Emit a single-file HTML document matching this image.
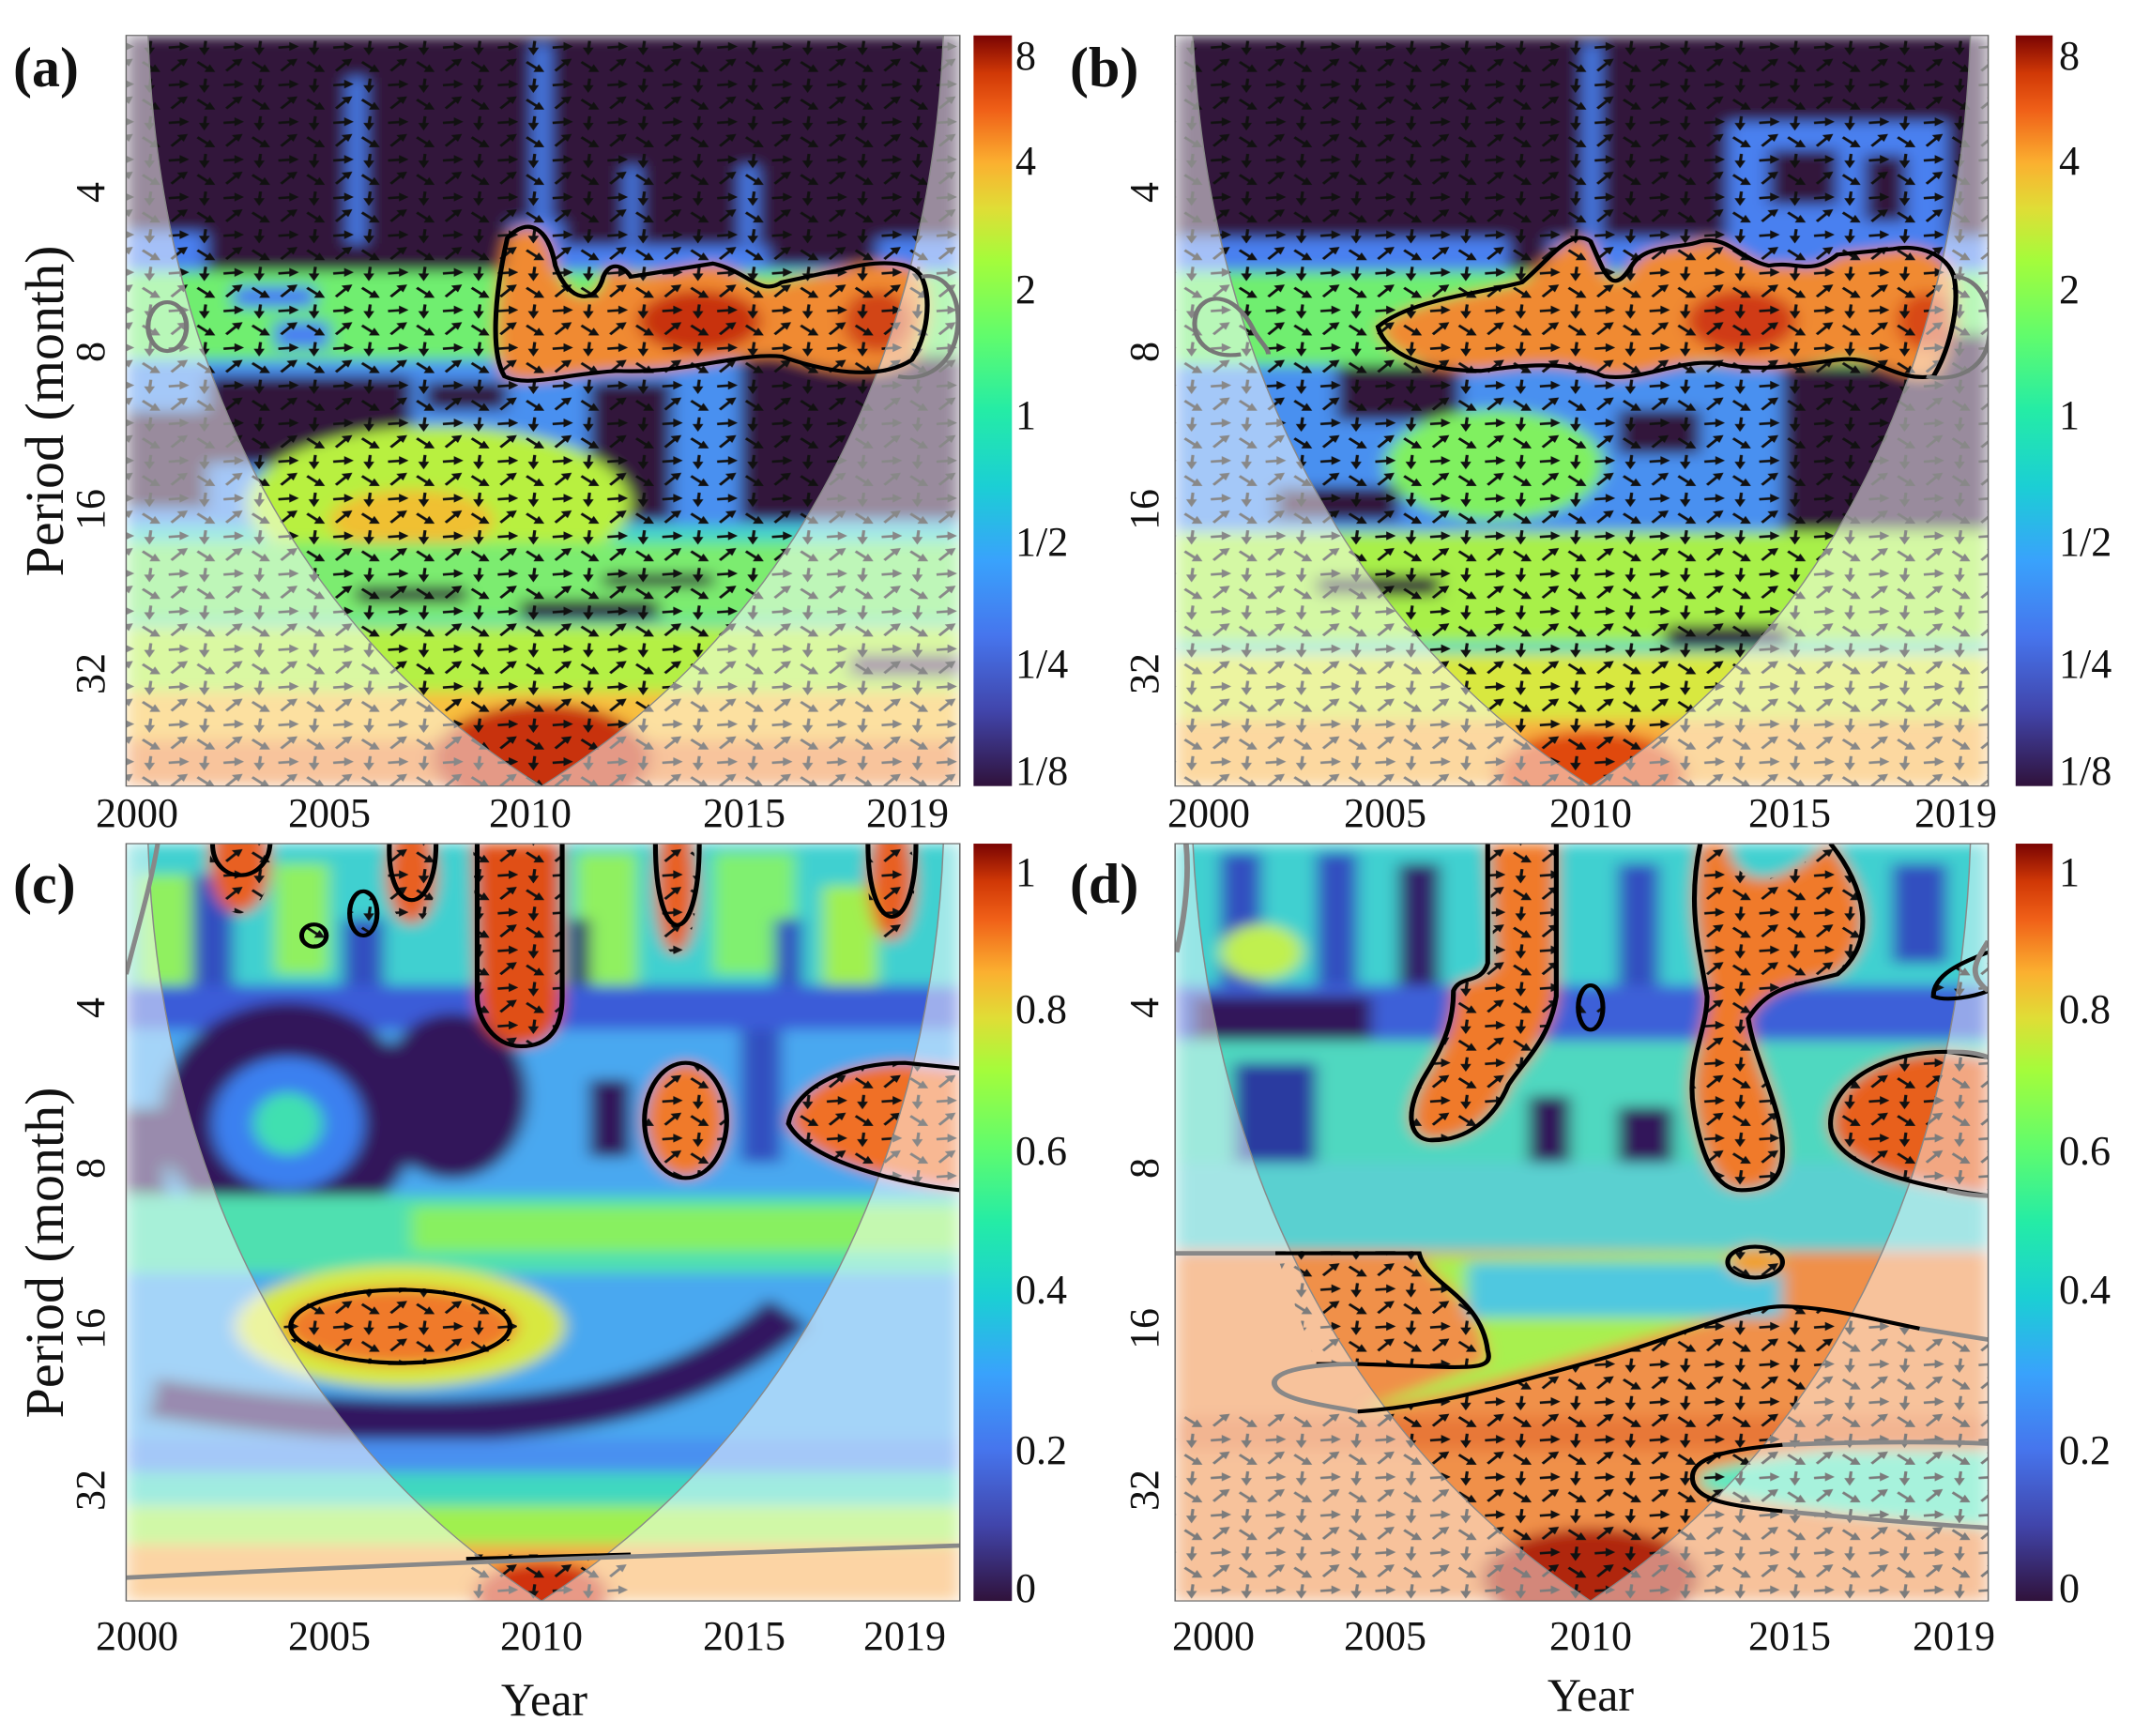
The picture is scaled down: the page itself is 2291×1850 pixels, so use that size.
<!DOCTYPE html>
<html><head><meta charset="utf-8">
<style>
html,body{margin:0;padding:0;background:#fff;}
#w{position:relative;width:2291px;height:1850px;overflow:hidden;font-family:"Liberation Serif",serif;color:#111;}
svg{position:absolute;left:0;top:0;}
.t{position:absolute;font-size:44px;line-height:1;white-space:nowrap;transform:translate(-50%,-50%);}
.r{transform:translate(-50%,-50%) rotate(-90deg);}
.lab{position:absolute;font-size:60px;font-weight:bold;line-height:1;}
.big{font-size:50px;}
.pl{font-size:58px;}
.cb{position:absolute;font-size:44px;line-height:1;transform:translateY(-50%);}
</style></head><body><div id="w">
<svg width="2291" height="1850" viewBox="0 0 1568 1568" preserveAspectRatio="none">
<defs>
<filter id="bl" x="-5%" y="-5%" width="110%" height="110%"><feGaussianBlur stdDeviation="6"/></filter>
<linearGradient id="turbo" x1="0" y1="1" x2="0" y2="0">
<stop offset="0" stop-color="#30123b"/><stop offset="0.1" stop-color="#4145ab"/><stop offset="0.2" stop-color="#4675ed"/>
<stop offset="0.3" stop-color="#39a2fc"/><stop offset="0.4" stop-color="#1bcfd4"/><stop offset="0.5" stop-color="#24eca6"/>
<stop offset="0.6" stop-color="#61fc6c"/><stop offset="0.7" stop-color="#a4fc3b"/><stop offset="0.77" stop-color="#e0dd36"/>
<stop offset="0.83" stop-color="#fbb030"/><stop offset="0.9" stop-color="#f06018"/><stop offset="0.95" stop-color="#d03806"/>
<stop offset="1" stop-color="#7a0403"/></linearGradient>
<pattern id="arr" width="40" height="34" patternUnits="userSpaceOnUse">
<g stroke="#111" stroke-width="2.2" fill="#111">
<path d="M3,9 L14,8" /><path d="M18,8 L11,4 L11,12Z" stroke="none"/>
<path d="M30,3 L29,12"/><path d="M29,16 L25,9 L33,9Z" stroke="none"/>
<path d="M5,30 L13,22"/><path d="M17,19 L9,20 L14,26Z" stroke="none"/>
<path d="M24,22 L33,29"/><path d="M37,31 L29,31 L33,24Z" stroke="none"/>
</g></pattern>
<clipPath id="ca"><rect x="92" y="32" width="608" height="678"/></clipPath>
<clipPath id="cb"><rect x="857" y="32" width="593" height="678"/></clipPath>
<clipPath id="cc"><rect x="92" y="762" width="608" height="684"/></clipPath>
<clipPath id="cd"><rect x="857" y="762" width="593" height="684"/></clipPath>
<clipPath id="blobc">
<path d="M345,762 H410 V900 C410,930 400,945 380,945 C360,945 348,920 348,900Z"/>
<ellipse cx="175" cy="780" rx="22" ry="45"/><ellipse cx="300" cy="790" rx="18" ry="45"/>
<ellipse cx="493" cy="800" rx="15" ry="62"/><ellipse cx="650" cy="795" rx="17" ry="55"/>
<ellipse cx="265" cy="825" rx="10" ry="20"/><ellipse cx="229" cy="845" rx="9" ry="10"/>
<ellipse cx="500" cy="1012" rx="30" ry="52"/>
<path d="M575,1015 C580,980 620,960 660,960 L700,965 V1075 C660,1070 590,1050 575,1015Z"/>
<ellipse cx="292" cy="1198" rx="85" ry="35"/>
<rect x="340" y="1404" width="120" height="42"/>
</clipPath>
<clipPath id="blobd">
<path d="M1085,762 H1135 V900 C1130,940 1110,960 1100,980 C1090,1010 1070,1030 1045,1030 C1025,1030 1025,1000 1040,970 C1055,940 1060,920 1060,895 C1065,880 1080,890 1090,870Z"/>
<path d="M1240,762 H1260 C1262,790 1280,800 1300,790 C1320,780 1330,762 1335,762 C1360,800 1370,850 1340,880 C1310,890 1290,890 1275,920 C1280,960 1300,1000 1300,1040 C1300,1070 1285,1075 1270,1075 C1250,1075 1240,1040 1235,1000 C1230,960 1245,930 1245,900 C1240,860 1230,820 1240,762Z"/>
<path d="M1335,1015 C1335,980 1370,950 1420,950 L1450,955 V1080 C1420,1075 1335,1060 1335,1015Z"/>
<ellipse cx="1280" cy="1140" rx="20" ry="14"/><ellipse cx="1160" cy="910" rx="9" ry="20"/>
<path d="M1410,900 C1410,880 1430,870 1450,860 V895 C1440,900 1420,905 1410,900Z"/>
<path d="M930,1130 H1035 C1040,1160 1080,1170 1085,1220 C1090,1240 1070,1235 990,1232 L960,1232Z"/>
<path d="M990,1275 C1050,1270 1100,1250 1160,1230 C1220,1210 1270,1180 1300,1180 C1330,1180 1360,1190 1400,1200 L1450,1210 V1446 H857 V1275Z"/>
</clipPath>
</defs>

<!-- ================= PANEL A ================= -->
<g clip-path="url(#ca)">
<g filter="url(#bl)">
<rect x="92" y="32" width="608" height="678" fill="#45d6c8"/>
<rect x="92" y="195" width="608" height="50" fill="#4a80f0"/>
<path d="M92,32 H700 V215 H640 V240 H560 V222 H410 V200 H372 V290 H150 V210 H92Z" fill="#30123b"/>
<rect x="254" y="70" width="12" height="150" fill="#4a80f0"/>
<rect x="389" y="40" width="12" height="180" fill="#4a80f0"/>
<rect x="456" y="150" width="10" height="70" fill="#4a80f0"/>
<rect x="540" y="150" width="12" height="70" fill="#4a80f0"/>
<rect x="92" y="245" width="608" height="80" fill="#70ee70"/>
<rect x="170" y="258" width="60" height="20" fill="#4a80f0"/>
<rect x="200" y="290" width="40" height="25" fill="#4a80f0"/>
<rect x="92" y="325" width="608" height="150" fill="#4a90f0"/>
<rect x="150" y="340" width="150" height="80" fill="#30123b"/>
<rect x="310" y="345" width="60" height="25" fill="#30123b"/>
<rect x="430" y="345" width="60" height="125" fill="#30123b"/>
<rect x="540" y="320" width="160" height="150" fill="#30123b"/>
<rect x="92" y="370" width="60" height="90" fill="#30123b"/>
<ellipse cx="320" cy="455" rx="140" ry="70" fill="#b8f040"/>
<ellipse cx="300" cy="470" rx="60" ry="28" fill="#f0c030"/>
<rect x="92" y="490" width="608" height="70" fill="#7cec70"/>
<rect x="260" y="530" width="80" height="14" fill="#30123b"/>
<rect x="380" y="542" width="100" height="18" fill="#30123b"/>
<rect x="440" y="518" width="80" height="12" fill="#30123b"/>
<rect x="92" y="565" width="608" height="60" fill="#b4f044"/>
<rect x="620" y="590" width="80" height="22" fill="#604060"/>
<rect x="92" y="625" width="608" height="45" fill="#f8c040"/>
<rect x="92" y="668" width="608" height="42" fill="#f08838"/>
<ellipse cx="395" cy="685" rx="80" ry="50" fill="#c8300c"/>
<path d="M370,215 C385,195 400,205 405,240 C415,275 435,275 440,250 C445,235 455,240 460,250 L520,238 C545,245 555,268 570,255 L615,243 C640,235 665,235 672,250 C680,270 676,305 665,325 C640,345 600,335 570,322 C540,318 500,338 450,335 C410,338 385,350 368,340 C358,320 360,270 370,215Z" fill="#f08a30"/>
<ellipse cx="510" cy="290" rx="45" ry="28" fill="#c83010"/>
<ellipse cx="640" cy="290" rx="25" ry="28" fill="#d24418"/>
</g>
<rect x="92" y="32" width="608" height="678" fill="url(#arr)"/>
<path d="M92,32 H108 C115,300 200,560 395,710 C590,560 680,300 688,32 H700 V710 H92Z" fill="#fff" opacity="0.5"/>
<path d="M108,32 C115,300 200,560 395,710 C590,560 680,300 688,32" fill="none" stroke="#888" stroke-width="1"/>
<path d="M370,215 C385,195 400,205 405,240 C415,275 435,275 440,250 C445,235 455,240 460,250 L520,238 C545,245 555,268 570,255 L615,243 C640,235 665,235 672,250 C680,270 676,305 665,325 C640,345 600,335 570,322 C540,318 500,338 450,335 C410,338 385,350 368,340 C358,320 360,270 370,215Z" fill="none" stroke="#000" stroke-width="3.5"/>
<ellipse cx="122" cy="295" rx="14" ry="22" fill="none" stroke="#777" stroke-width="3.5"/>
<path d="M672,250 C690,245 702,270 698,300 C694,330 675,345 655,340" fill="none" stroke="#777" stroke-width="3.5"/>
</g>

<!-- ================= PANEL B ================= -->
<g clip-path="url(#cb)">
<g filter="url(#bl)">
<rect x="857" y="32" width="593" height="678" fill="#45d6c8"/>
<rect x="857" y="200" width="593" height="45" fill="#4a80f0"/>
<path d="M857,32 H1450 V215 H1130 V260 H1100 V215 H857Z" fill="#30123b"/>
<rect x="1260" y="110" width="160" height="110" fill="#4a80f0"/>
<rect x="1290" y="135" width="50" height="50" fill="#30123b"/>
<rect x="1360" y="140" width="30" height="60" fill="#30123b"/>
<rect x="1155" y="40" width="12" height="180" fill="#4a80f0"/>
<rect x="857" y="245" width="593" height="85" fill="#70ee70"/>
<rect x="857" y="330" width="593" height="150" fill="#4a90f0"/>
<rect x="975" y="330" width="90" height="50" fill="#30123b"/>
<rect x="1300" y="330" width="110" height="150" fill="#30123b"/>
<rect x="1180" y="370" width="60" height="40" fill="#30123b"/>
<rect x="1380" y="300" width="70" height="190" fill="#30123b"/>
<ellipse cx="1090" cy="420" rx="80" ry="50" fill="#80f060"/>
<rect x="930" y="440" width="90" height="30" fill="#30123b"/>
<rect x="857" y="480" width="593" height="100" fill="#a8f048"/>
<rect x="960" y="520" width="90" height="18" fill="#30123b"/>
<rect x="1215" y="565" width="90" height="20" fill="#30123b"/>
<rect x="1380" y="615" width="70" height="14" fill="#604060"/>
<rect x="857" y="590" width="593" height="60" fill="#d8e840"/>
<rect x="857" y="650" width="593" height="60" fill="#f8b040"/>
<ellipse cx="1160" cy="700" rx="70" ry="40" fill="#e04810"/>
<path d="M1005,295 C1030,270 1080,265 1110,255 C1130,235 1145,205 1160,218 C1170,245 1175,270 1190,240 C1200,220 1225,225 1240,218 C1260,212 1270,235 1290,240 C1310,235 1320,250 1340,230 L1380,225 C1400,220 1420,230 1425,250 C1430,280 1420,320 1410,340 C1380,345 1370,320 1340,325 C1310,330 1290,335 1260,330 C1230,320 1200,345 1170,340 C1140,325 1110,330 1080,335 C1040,335 1010,320 1005,295Z" fill="#f08a30"/>
<ellipse cx="1270" cy="290" rx="40" ry="28" fill="#d03a12"/>
<ellipse cx="1405" cy="290" rx="22" ry="26" fill="#d84818"/>
</g>
<rect x="857" y="32" width="593" height="678" fill="url(#arr)"/>
<path d="M857,32 H870 C880,300 970,560 1160,710 C1350,560 1430,300 1437,32 H1450 V710 H857Z" fill="#fff" opacity="0.5"/>
<path d="M870,32 C880,300 970,560 1160,710 C1350,560 1430,300 1437,32" fill="none" stroke="#888" stroke-width="1"/>
<path d="M1005,295 C1030,270 1080,265 1110,255 C1130,235 1145,205 1160,218 C1170,245 1175,270 1190,240 C1200,220 1225,225 1240,218 C1260,212 1270,235 1290,240 C1310,235 1320,250 1340,230 L1380,225 C1400,220 1420,230 1425,250 C1430,280 1420,320 1410,340 C1380,345 1370,320 1340,325 C1310,330 1290,335 1260,330 C1230,320 1200,345 1170,340 C1140,325 1110,330 1080,335 C1040,335 1010,320 1005,295Z" fill="none" stroke="#000" stroke-width="3.5"/>
<path d="M905,320 C880,325 868,305 872,285 C876,265 900,260 915,300 C920,310 925,315 925,320" fill="none" stroke="#777" stroke-width="3.5"/>
<path d="M1425,250 C1445,250 1455,280 1450,310 C1445,335 1425,345 1405,340" fill="none" stroke="#777" stroke-width="3.5"/>
</g>

<!-- ================= PANEL C ================= -->
<g clip-path="url(#cc)">
<g filter="url(#bl)">
<rect x="92" y="762" width="608" height="684" fill="#48a8f0"/>
<rect x="92" y="762" width="608" height="140" fill="#40d0d0"/>
<rect x="100" y="790" width="40" height="100" fill="#90f060"/>
<rect x="200" y="780" width="40" height="100" fill="#90f060"/>
<rect x="420" y="770" width="45" height="120" fill="#90f060"/>
<rect x="520" y="770" width="60" height="110" fill="#80f070"/>
<rect x="600" y="800" width="40" height="90" fill="#a0f050"/>
<rect x="140" y="790" width="30" height="110" fill="#3050c0"/>
<rect x="250" y="830" width="30" height="80" fill="#3050c0"/>
<rect x="415" y="830" width="15" height="70" fill="#30246a"/>
<rect x="565" y="830" width="20" height="80" fill="#3050c0"/>
<rect x="92" y="890" width="608" height="40" fill="#3b5cd8"/>
<ellipse cx="210" cy="1010" rx="95" ry="105" fill="#30165a"/>
<ellipse cx="210" cy="1015" rx="55" ry="60" fill="#3a80f0"/>
<ellipse cx="210" cy="1015" rx="25" ry="28" fill="#40e0b0"/>
<ellipse cx="330" cy="990" rx="55" ry="75" fill="#30165a"/>
<rect x="430" y="975" width="30" height="70" fill="#30165a"/>
<rect x="540" y="930" width="30" height="120" fill="#3050c0"/>
<rect x="92" y="1000" width="30" height="100" fill="#30165a"/>
<rect x="92" y="1080" width="608" height="70" fill="#50e0b0"/>
<rect x="300" y="1090" width="400" height="40" fill="#88f060"/>
<ellipse cx="292" cy="1198" rx="120" ry="55" fill="#d8e840"/>
<ellipse cx="292" cy="1198" rx="85" ry="35" fill="#f07a2a"/>
<path d="M110,1262 C300,1300 480,1295 575,1185" fill="none" stroke="#301860" stroke-width="38"/>
<rect x="92" y="1300" width="608" height="30" fill="#4a90f0"/>
<rect x="92" y="1330" width="608" height="30" fill="#40d8c0"/>
<rect x="92" y="1360" width="608" height="35" fill="#a0f050"/>
<rect x="92" y="1395" width="608" height="51" fill="#f8a848"/>
<ellipse cx="395" cy="1440" rx="50" ry="30" fill="#d03008"/>
<path d="M345,762 H410 V900 C410,930 400,945 380,945 C360,945 348,920 348,900Z" fill="#e05016"/>
<ellipse cx="175" cy="780" rx="22" ry="45" fill="#e86020"/>
<ellipse cx="300" cy="790" rx="18" ry="45" fill="#e86020"/>
<ellipse cx="493" cy="800" rx="15" ry="62" fill="#e86020"/>
<ellipse cx="650" cy="795" rx="17" ry="55" fill="#e86020"/>
<ellipse cx="500" cy="1012" rx="30" ry="52" fill="#f07a2a"/>
<path d="M575,1015 C580,980 620,960 660,960 L700,965 V1075 C660,1070 590,1050 575,1015Z" fill="#f07028"/>
</g>
<rect x="92" y="762" width="608" height="684" fill="url(#arr)" clip-path="url(#blobc)"/>
<path d="M92,762 H108 C115,1030 200,1290 395,1446 C590,1290 680,1030 688,762 H700 V1446 H92Z" fill="#fff" opacity="0.5"/>
<path d="M108,762 C115,1030 200,1290 395,1446 C590,1290 680,1030 688,762" fill="none" stroke="#888" stroke-width="1"/>
<g fill="none" stroke="#000" stroke-width="3.5">
<path d="M348,762 V900 C348,920 360,945 380,945 C400,945 410,930 410,900 V762"/>
<path d="M155,762 C155,800 195,800 197,762"/>
<path d="M284,762 C282,830 318,830 318,762"/>
<path d="M478,762 C478,860 510,860 510,762"/>
<path d="M633,762 C633,850 668,850 668,762"/>
<ellipse cx="265" cy="825" rx="10" ry="20"/><ellipse cx="229" cy="845" rx="9" ry="10"/>
<ellipse cx="500" cy="1012" rx="30" ry="52"/>
<path d="M700,965 L660,960 C620,960 580,980 575,1015 C590,1050 660,1070 700,1075"/>
<ellipse cx="292" cy="1198" rx="80" ry="33"/>
<path d="M340,1408 L460,1404"/>
</g>
<path d="M92,1425 C300,1412 500,1404 700,1396" fill="none" stroke="#888" stroke-width="4"/>
<path d="M92,880 C100,840 110,800 115,762" fill="none" stroke="#888" stroke-width="3.5"/>
</g>

<!-- ================= PANEL D ================= -->
<g clip-path="url(#cd)">
<g filter="url(#bl)">
<rect x="857" y="762" width="593" height="684" fill="#48a8f0"/>
<rect x="857" y="762" width="593" height="130" fill="#40d0d0"/>
<rect x="890" y="770" width="30" height="120" fill="#3050c0"/>
<rect x="960" y="770" width="30" height="120" fill="#3050c0"/>
<rect x="1020" y="780" width="30" height="140" fill="#30246a"/>
<rect x="1180" y="780" width="30" height="140" fill="#3050c0"/>
<rect x="1380" y="780" width="40" height="90" fill="#3050c0"/>
<ellipse cx="920" cy="860" rx="30" ry="25" fill="#c0f050"/>
<rect x="857" y="890" width="593" height="50" fill="#3c60d8"/>
<rect x="870" y="900" width="130" height="40" fill="#30165a"/>
<rect x="1140" y="950" width="60" height="30" fill="#30165a"/>
<rect x="857" y="940" width="593" height="110" fill="#50d8c0"/>
<rect x="900" y="960" width="60" height="100" fill="#2a3aa0"/>
<rect x="1115" y="990" width="30" height="120" fill="#30165a"/>
<rect x="1180" y="1000" width="40" height="50" fill="#30165a"/>
<rect x="857" y="1050" width="593" height="80" fill="#5ad0d0"/>
<rect x="1080" y="1150" width="200" height="25" fill="#3040b0"/>
<rect x="857" y="1130" width="593" height="316" fill="#f09048"/>
<path d="M1035,1135 C1060,1170 1080,1180 1085,1230 L990,1275 C1100,1250 1200,1200 1300,1180 L1300,1130 Z" fill="#a8f050"/>
<rect x="1070" y="1140" width="230" height="50" fill="#50c8e0"/>
<path d="M1240,1330 C1300,1310 1400,1300 1450,1305 V1380 C1400,1375 1300,1365 1240,1345Z" fill="#60e8c0"/>
<rect x="857" y="1280" width="593" height="30" fill="#e87838"/>
<ellipse cx="1160" cy="1425" rx="80" ry="45" fill="#b02808"/>
<path d="M1085,762 H1135 V900 C1130,940 1110,960 1100,980 C1090,1010 1070,1030 1045,1030 C1025,1030 1025,1000 1040,970 C1055,940 1060,920 1060,895 C1065,880 1080,890 1090,870Z" fill="#f07a2a"/>
<path d="M1240,762 H1260 C1262,790 1280,800 1300,790 C1320,780 1330,762 1335,762 C1360,800 1370,850 1340,880 C1310,890 1290,890 1275,920 C1280,960 1300,1000 1300,1040 C1300,1070 1285,1075 1270,1075 C1250,1075 1240,1040 1235,1000 C1230,960 1245,930 1245,900 C1240,860 1230,820 1240,762Z" fill="#f07a2a"/>
<path d="M1335,1015 C1335,980 1370,950 1420,950 L1450,955 V1080 C1420,1075 1335,1060 1335,1015Z" fill="#e8601c"/>
<ellipse cx="1280" cy="1140" rx="20" ry="14" fill="#f0a030"/>
</g>
<rect x="857" y="762" width="593" height="684" fill="url(#arr)" clip-path="url(#blobd)"/>
<path d="M857,762 H870 C880,1030 970,1290 1160,1446 C1350,1290 1430,1030 1437,762 H1450 V1446 H857Z" fill="#fff" opacity="0.45"/>
<path d="M870,762 C880,1030 970,1290 1160,1446 C1350,1290 1430,1030 1437,762" fill="none" stroke="#888" stroke-width="1"/>
<g fill="none" stroke="#000" stroke-width="3.5">
<path d="M1085,762 V870 C1080,890 1065,880 1060,895 C1060,920 1055,940 1040,970 C1025,1000 1025,1030 1045,1030 C1070,1030 1090,1010 1100,980 C1110,960 1130,940 1135,900 V762"/>
<path d="M1240,762 C1230,820 1240,860 1245,900 C1245,930 1230,960 1235,1000 C1240,1040 1250,1075 1270,1075 C1285,1075 1300,1070 1300,1040 C1300,1000 1280,960 1275,920 C1290,890 1310,890 1340,880 C1370,850 1360,800 1335,762"/>
<path d="M1450,955 L1420,950 C1370,950 1335,980 1335,1015 C1335,1060 1420,1075 1450,1080"/>
<ellipse cx="1280" cy="1140" rx="20" ry="14"/><ellipse cx="1160" cy="910" rx="9" ry="20"/>
<path d="M1450,860 C1430,870 1410,880 1410,900 C1420,905 1440,900 1450,895"/>
<path d="M930,1132 H1035 C1040,1160 1080,1170 1085,1220 C1090,1240 1070,1235 990,1232 L960,1232"/>
<path d="M990,1275 C1050,1270 1100,1250 1160,1230 C1220,1210 1270,1180 1300,1180 C1330,1180 1360,1190 1400,1200"/>
<path d="M1300,1305 C1250,1310 1230,1320 1235,1340 C1240,1355 1260,1360 1300,1365"/>
</g>
<g fill="none" stroke="#888" stroke-width="4">
<path d="M857,1132 H930"/>
<path d="M1400,1200 L1450,1210"/>
<path d="M990,1232 C950,1232 925,1240 930,1252 C935,1265 970,1270 990,1275"/>
<path d="M1300,1305 C1360,1302 1420,1302 1450,1304"/>
<path d="M1300,1365 C1360,1372 1420,1378 1450,1380"/>
<path d="M1450,955 C1440,950 1430,950 1420,950"/>
<path d="M1450,1080 C1440,1080 1430,1078 1420,1075"/>
<path d="M865,762 C868,800 862,840 858,860"/>
<path d="M1450,850 C1440,870 1435,880 1450,895"/>
</g>
</g>

<!-- panel borders -->
<g fill="none" stroke="#666" stroke-width="1">
<rect x="92" y="32" width="608" height="678"/><rect x="857" y="32" width="593" height="678"/>
<rect x="92" y="762" width="608" height="684"/><rect x="857" y="762" width="593" height="684"/>
</g>
<!-- colorbars -->
<rect x="710" y="32" width="28" height="678" fill="url(#turbo)"/>
<rect x="1470" y="32" width="27" height="678" fill="url(#turbo)"/>
<rect x="710" y="762" width="28" height="684" fill="url(#turbo)"/>
<rect x="1470" y="762" width="27" height="684" fill="url(#turbo)"/>
</svg>

<!-- panel labels -->
<div class="lab" style="left:14px;top:42px;">(a)</div>
<div class="lab" style="left:1140px;top:42px;">(b)</div>
<div class="lab" style="left:14px;top:912px;">(c)</div>
<div class="lab" style="left:1140px;top:912px;">(d)</div>

<!-- y axis labels -->
<div class="t r pl" style="left:48px;top:438px;">Period (month)</div>
<div class="t r pl" style="left:48px;top:1335px;">Period (month)</div>
<div class="t r" style="left:97px;top:205px;">4</div>
<div class="t r" style="left:97px;top:375px;">8</div>
<div class="t r" style="left:97px;top:543px;">16</div>
<div class="t r" style="left:97px;top:718px;">32</div>
<div class="t r" style="left:1220px;top:205px;">4</div>
<div class="t r" style="left:1220px;top:375px;">8</div>
<div class="t r" style="left:1220px;top:543px;">16</div>
<div class="t r" style="left:1220px;top:718px;">32</div>
<div class="t r" style="left:97px;top:1074px;">4</div>
<div class="t r" style="left:97px;top:1245px;">8</div>
<div class="t r" style="left:97px;top:1416px;">16</div>
<div class="t r" style="left:97px;top:1588px;">32</div>
<div class="t r" style="left:1220px;top:1074px;">4</div>
<div class="t r" style="left:1220px;top:1245px;">8</div>
<div class="t r" style="left:1220px;top:1416px;">16</div>
<div class="t r" style="left:1220px;top:1588px;">32</div>

<!-- x tick labels -->
<div class="t" style="left:146px;top:867px;">2000</div>
<div class="t" style="left:351px;top:867px;">2005</div>
<div class="t" style="left:565px;top:867px;">2010</div>
<div class="t" style="left:793px;top:867px;">2015</div>
<div class="t" style="left:967px;top:867px;">2019</div>
<div class="t" style="left:1288px;top:867px;">2000</div>
<div class="t" style="left:1476px;top:867px;">2005</div>
<div class="t" style="left:1695px;top:867px;">2010</div>
<div class="t" style="left:1907px;top:867px;">2015</div>
<div class="t" style="left:2084px;top:867px;">2019</div>
<div class="t" style="left:146px;top:1744px;">2000</div>
<div class="t" style="left:351px;top:1744px;">2005</div>
<div class="t" style="left:577px;top:1744px;">2010</div>
<div class="t" style="left:793px;top:1744px;">2015</div>
<div class="t" style="left:964px;top:1744px;">2019</div>
<div class="t" style="left:1293px;top:1744px;">2000</div>
<div class="t" style="left:1476px;top:1744px;">2005</div>
<div class="t" style="left:1695px;top:1744px;">2010</div>
<div class="t" style="left:1907px;top:1744px;">2015</div>
<div class="t" style="left:2082px;top:1744px;">2019</div>
<div class="t big" style="left:580px;top:1811px;">Year</div>
<div class="t big" style="left:1695px;top:1806px;">Year</div>

<!-- colorbar labels -->
<div class="cb" style="left:1082px;top:60px;">8</div>
<div class="cb" style="left:1082px;top:172px;">4</div>
<div class="cb" style="left:1082px;top:309px;">2</div>
<div class="cb" style="left:1082px;top:443px;">1</div>
<div class="cb" style="left:1082px;top:578px;">1/2</div>
<div class="cb" style="left:1082px;top:708px;">1/4</div>
<div class="cb" style="left:1082px;top:822px;">1/8</div>
<div class="cb" style="left:2194px;top:60px;">8</div>
<div class="cb" style="left:2194px;top:172px;">4</div>
<div class="cb" style="left:2194px;top:309px;">2</div>
<div class="cb" style="left:2194px;top:443px;">1</div>
<div class="cb" style="left:2194px;top:578px;">1/2</div>
<div class="cb" style="left:2194px;top:708px;">1/4</div>
<div class="cb" style="left:2194px;top:822px;">1/8</div>
<div class="cb" style="left:1082px;top:930px;">1</div>
<div class="cb" style="left:1082px;top:1076px;">0.8</div>
<div class="cb" style="left:1082px;top:1227px;">0.6</div>
<div class="cb" style="left:1082px;top:1375px;">0.4</div>
<div class="cb" style="left:1082px;top:1546px;">0.2</div>
<div class="cb" style="left:1082px;top:1693px;">0</div>
<div class="cb" style="left:2194px;top:930px;">1</div>
<div class="cb" style="left:2194px;top:1076px;">0.8</div>
<div class="cb" style="left:2194px;top:1227px;">0.6</div>
<div class="cb" style="left:2194px;top:1375px;">0.4</div>
<div class="cb" style="left:2194px;top:1546px;">0.2</div>
<div class="cb" style="left:2194px;top:1693px;">0</div>
</div></body></html>
